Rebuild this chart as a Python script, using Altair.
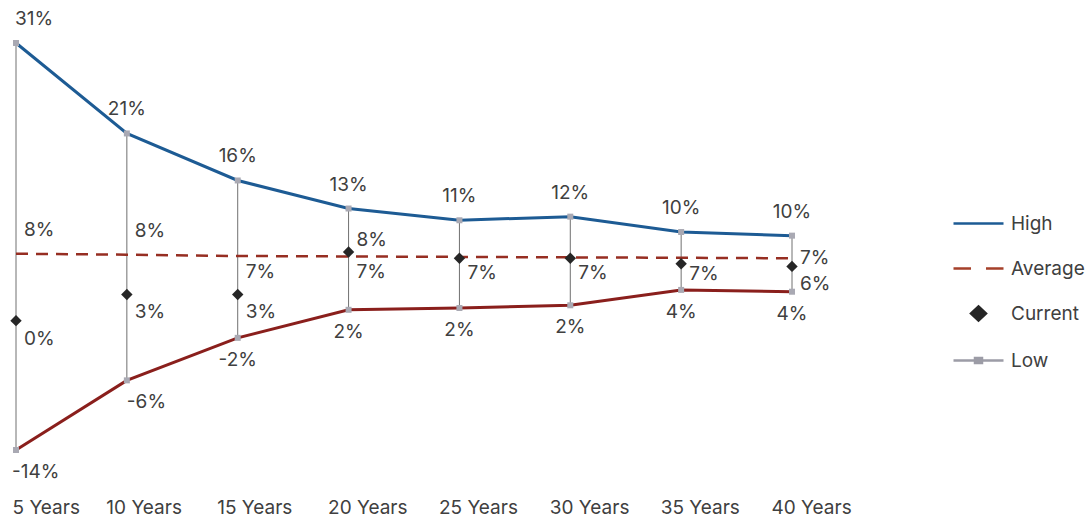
import altair as alt
import pandas as pd

# Return ranges by holding period (percent)
years = ["5 Years", "10 Years", "15 Years", "20 Years", "25 Years", "30 Years", "35 Years", "40 Years"]
high = [31.0, 21.0, 15.8, 12.7, 11.4, 11.8, 10.1, 9.7]
low = [-14.0, -6.3, -1.6, 1.5, 1.7, 2.0, 3.7, 3.5]
average = [7.7, 7.6, 7.45, 7.4, 7.35, 7.3, 7.25, 7.2]
current = [0.3, 3.2, 3.2, 7.9, 7.2, 7.2, 6.6, 6.3]

# Legend entries
series = ["High", "Average", "Current", "Low"]
series_colors = ["#1d5b94", "#a5402a", "#262626", "#9c9ca6"]
series_shapes = [
    "M-1,0H1",
    "M-1,0H-0.3M0.3,0H1",
    "M0,-0.28L0.3,0L0,0.28L-0.3,0Z",
    "M-1,0H1M-0.14,-0.1H0.14V0.1H-0.14Z",
]

FONT = "Inter"
TEXT = "#404040"
FS = 19

df = pd.DataFrame({"year": years, "high": high, "low": low,
                   "average": average, "current": current})
legend_df = pd.DataFrame({"series": series, "v": [None] * len(series)})

yscale = alt.Scale(domain=[-14, 31], nice=False, zero=False)

base = alt.Chart(df).encode(
    x=alt.X(
        "year:N", sort=years,
        scale=alt.Scale(type="point", padding=0),
        axis=alt.Axis(
            title=None, domain=False, ticks=False, grid=False, labelAngle=0,
            labelAlign="left",
            labelOffset={"condition": {"test": "datum.value == '5 Years'", "value": -4}, "value": -21},
            labelPadding=48, labelFont=FONT, labelFontSize=FS, labelColor=TEXT,
        ),
    )
).transform_calculate(
    high_lbl="round(datum.high) + '%'",
    low_lbl="round(datum.low) + '%'",
    avg_lbl="round(datum.average) + '%'",
    cur_lbl="round(datum.current) + '%'",
)

spans = base.mark_rule(color="#707070", strokeWidth=1).encode(
    y=alt.Y("low:Q", scale=yscale, axis=None), y2="high:Q")

high_line = base.mark_line(color="#1d5b94", strokeWidth=3).encode(
    y=alt.Y("high:Q", scale=yscale, axis=None))
low_line = base.mark_line(color="#8a1f1c", strokeWidth=3).encode(
    y=alt.Y("low:Q", scale=yscale, axis=None))
avg_line = base.mark_line(color="#962e22", strokeWidth=2.5, strokeDash=[12, 8]).encode(
    y=alt.Y("average:Q", scale=yscale, axis=None))

high_pts = base.mark_square(color="#a9a9b3", size=36, opacity=1).encode(
    y=alt.Y("high:Q", scale=yscale, axis=None))
low_pts = base.mark_square(color="#a9a9b3", size=36, opacity=1).encode(
    y=alt.Y("low:Q", scale=yscale, axis=None))

cur_pts = base.mark_point(shape="diamond", filled=True, color="#262626", size=130, opacity=1).encode(
    y=alt.Y("current:Q", scale=yscale, axis=None))

txt = dict(font=FONT, fontSize=FS, color=TEXT, baseline="middle")

high_txt = base.mark_text(
    **txt,
    align={"expr": "datum.year == '5 Years' ? 'left' : 'center'"},
    dx={"expr": "datum.year == '5 Years' ? -1 : 0"},
    dy=-24,
).encode(y=alt.Y("high:Q", scale=yscale, axis=None), text="high_lbl:N")

low_txt = base.mark_text(
    **txt,
    align={"expr": "datum.year == '5 Years' || datum.year == '10 Years' ? 'left' : 'center'"},
    dx={"expr": "datum.year == '5 Years' ? -4 : 0"},
    dy=22,
).encode(y=alt.Y("low:Q", scale=yscale, axis=None), text="low_lbl:N")

avg_txt = base.mark_text(
    **txt, align="left", dx=8,
    dy={"expr": "datum.year == '5 Years' || datum.year == '10 Years' ? -24 : (datum.year == '40 Years' ? 0 : 16)"},
).encode(y=alt.Y("average:Q", scale=yscale, axis=None), text="avg_lbl:N")

cur_txt = base.mark_text(
    **txt, align="left", dx=8,
    dy={"expr": "datum.current > datum.average ? -12 : 18"},
).transform_filter(
    "round(datum.current) != round(datum.average)"
).encode(y=alt.Y("current:Q", scale=yscale, axis=None), text="cur_lbl:N")

legend_kw = dict(
    title=None, orient="none", legendX=936, legendY=154,
    symbolSize=2500, symbolStrokeWidth=2.5, symbolOpacity=1,
    labelFont=FONT, labelFontSize=FS, labelColor=TEXT, labelOffset=6,
    rowPadding=8, labelLimit=200,
)
legend_layer = alt.Chart(legend_df).mark_point(opacity=1, strokeWidth=2.5).encode(
    y=alt.Y("v:Q", scale=yscale, axis=None),
    fill=alt.Fill("series:N", sort=series,
                  scale=alt.Scale(domain=series, range=series_colors), legend=alt.Legend(**legend_kw)),
    stroke=alt.Stroke("series:N", sort=series,
                      scale=alt.Scale(domain=series, range=series_colors), legend=alt.Legend(**legend_kw)),
    shape=alt.Shape("series:N", sort=series,
                    scale=alt.Scale(domain=series, range=series_shapes), legend=alt.Legend(**legend_kw)),
)

chart = alt.layer(
    spans, high_line, low_line, avg_line, high_pts, low_pts, cur_pts,
    high_txt, low_txt, avg_txt, cur_txt, legend_layer,
).properties(
    width=776, height=407,
    autosize=alt.AutoSizeParams(type="none"),
    padding={"left": 16, "top": 43, "right": 295, "bottom": 71},
    background="white",
).configure_view(stroke=None)

chart.save("out.html", embed_options={"renderer": "svg", "actions": False})
